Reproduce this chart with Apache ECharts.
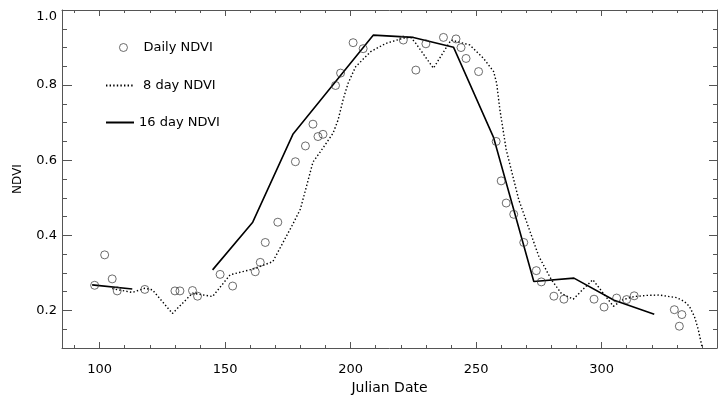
<!DOCTYPE html>
<html><head><meta charset="utf-8">
<script src="https://cdn.jsdelivr.net/npm/echarts@6/dist/echarts.min.js"></script>
<style>html,body{margin:0;padding:0;background:#fff}#c{width:718px;height:396px}</style>
</head><body><div id="c"></div>
<script>
// Daily NDVI observations [julian day, ndvi]
var dailyNDVI = [
  [98,0.267],[102,0.348],[105,0.284],[107,0.252],[118,0.256],[130,0.252],[132,0.252],
  [137,0.253],[139,0.238],[148,0.296],[153,0.265],[162,0.303],[164,0.328],[166,0.381],
  [171,0.435],[178,0.596],[182,0.638],[185,0.696],[187,0.663],[189,0.669],[194,0.799],
  [196,0.832],[201,0.913],[205,0.897],[221,0.920],[226,0.840],[230,0.910],[237,0.927],
  [242,0.923],[244,0.900],[246,0.871],[251,0.836],[258,0.650],[260,0.545],[262,0.486],
  [265,0.456],[269,0.381],[274,0.306],[276,0.276],[281,0.238],[285,0.230],[297,0.230],
  [301,0.209],[306,0.233],[310,0.229],[313,0.239],[329,0.202],[332,0.189],[331,0.158]
];
// 8 day NDVI curve [julian day, ndvi]
var ndvi8day = [
  [105,0.258],[113,0.248],[118,0.259],[121,0.255],[129,0.192],[137,0.246],[145,0.237],
  [152,0.295],[161,0.310],[169,0.330],[177,0.430],[180,0.470],[185,0.595],[188,0.623],
  [193,0.672],[195,0.707],[197,0.761],[199,0.805],[202,0.849],[208,0.889],[214,0.911],
  [221,0.925],[224,0.927],[226,0.911],[233,0.845],[240,0.920],[247.5,0.907],[253,0.871],
  [257,0.836],[258.2,0.805],[259.5,0.734],[262,0.628],[267,0.495],[271.5,0.410],
  [275,0.344],[280,0.282],[284,0.245],[288.7,0.230],[296.5,0.282],[304.7,0.211],
  [308.6,0.229],[313,0.237],[318,0.240],[323,0.241],[330,0.234],[333,0.224],[335,0.211],
  [337,0.184],[338.5,0.150],[340,0.104]
];
// 16 day NDVI composite [julian day, ndvi]; '-' marks the gap
var ndvi16day = [
  [97,0.268],[113,0.257],[129,'-'],[145,0.308],[161,0.435],[177,0.669],[193,0.801],
  [209,0.933],[225,0.927],[241,0.901],[257,0.660],[273,0.277],[289,0.286],[305,0.227],[321,0.190]
];
var xMajorTicks = [100,150,200,250,300];
var xMinorTicks = [90,100,110,120,130,140,150,160,170,180,190,200,210,220,230,240,250,260,270,280,290,300,310,320,330,340];
var yMajorTicks = [0.2,0.4,0.6,0.8,1.0];
var yMinorTicks = [0.15,0.2,0.25,0.3,0.35,0.4,0.45,0.5,0.55,0.6,0.65,0.7,0.75,0.8,0.85,0.9,0.95];

var FONT = 'DejaVu Sans';
var AX = '#555';
function xAx(pos, ticks, len, showLine, labels){
  return {type:'value', position:pos, min:85, max:346,
    axisLine:{show:showLine, onZero:false, lineStyle:{color:AX, width:1}},
    axisTick:{show:true, inside:true, length:len, customValues:ticks, lineStyle:{color:AX, width:1}},
    axisLabel:{show:labels, customValues:ticks, margin:15, color:'#000', fontFamily:FONT, fontSize:13},
    splitLine:{show:false}};
}
function yAx(pos, ticks, len, showLine, labels){
  return {type:'value', position:pos, min:0.1, max:1.0,
    axisLine:{show:showLine, onZero:false, lineStyle:{color:AX, width:1}},
    axisTick:{show:true, inside:true, length:len, customValues:ticks, lineStyle:{color:AX, width:1}},
    axisLabel:{show:labels, customValues:ticks, margin:5, color:'#000', fontFamily:FONT, fontSize:13,
      formatter:function(v){ return v >= 0.999 ? '{top|' + v.toFixed(1) + '}' : v.toFixed(1); },
      rich:{top:{padding:[14,0,0,0], color:'#000', fontFamily:FONT, fontSize:13}}},
    splitLine:{show:false}};
}
var xa0 = xAx('bottom', xMajorTicks, 6, true, true);
xa0.name = 'Julian Date'; xa0.nameLocation = 'middle'; xa0.nameGap = 32;
xa0.nameTextStyle = {color:'#000', fontFamily:FONT, fontSize:14};
var ya0 = yAx('left', yMajorTicks, 10, true, true);
ya0.name = 'NDVI'; ya0.nameLocation = 'middle'; ya0.nameGap = 38;
ya0.nameTextStyle = {color:'#000', fontFamily:FONT, fontSize:12};

var legText = {color:'#000', fontFamily:FONT, fontSize:13};
var chart = echarts.init(document.getElementById('c'), null, {renderer:'canvas'});
chart.setOption({
  animation:false,
  backgroundColor:'#fff',
  grid:{left:62, right:1, top:10, bottom:48, containLabel:false, outerBoundsMode:'none'},
  xAxis:[xa0, xAx('bottom', xMinorTicks, 3, false, false), xAx('top', xMajorTicks, 6, true, false), xAx('top', xMinorTicks, 3, false, false)],
  yAxis:[ya0, yAx('left', yMinorTicks, 5, false, false), yAx('right', yMajorTicks, 8, true, false), yAx('right', yMinorTicks, 4, false, false)],
  legend:[
    {data:['Daily NDVI'], left:119, top:41, padding:0, itemWidth:30, itemHeight:8,
      itemStyle:{borderWidth:0.9, borderColor:'#333'}, textStyle:legText},
    {data:['8 day NDVI'], left:105, top:79, padding:0, itemWidth:28, itemHeight:14,
      itemStyle:{opacity:0}, textStyle:{color:'#000', fontFamily:FONT, fontSize:13, padding:[0,0,0,4]}},
    {data:['16 day NDVI'], left:105, top:116, padding:0, itemWidth:28, itemHeight:14,
      itemStyle:{opacity:0}, textStyle:legText}
  ],
  series:[
    {name:'8 day NDVI', type:'line', data:ndvi8day, symbol:'none', z:2, color:'#000',
      itemStyle:{color:'#000'},
      lineStyle:{color:'#000', width:1.4, type:[1.4,2.2], cap:'butt'}},
    {name:'16 day NDVI', type:'line', data:ndvi16day, symbol:'none', connectNulls:false, z:3, color:'#000',
      itemStyle:{color:'#000'},
      lineStyle:{color:'#000', width:1.6, type:'solid'}},
    {name:'Daily NDVI', type:'scatter', data:dailyNDVI, symbol:'circle', symbolSize:8, z:4,
      itemStyle:{color:'rgba(255,255,255,0)', borderColor:'#333', borderWidth:0.9}}
  ]
});
</script></body></html>
